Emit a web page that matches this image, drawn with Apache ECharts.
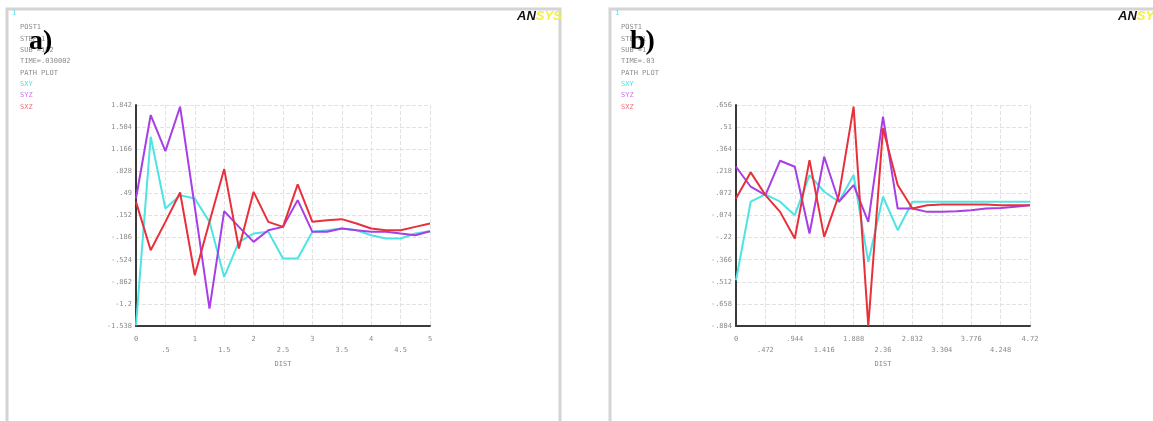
<!DOCTYPE html>
<html><head><meta charset="utf-8">
<script src="https://cdn.jsdelivr.net/npm/echarts@6/dist/echarts.min.js"></script>
<style>html,body{margin:0;padding:0;background:#fff}#c{width:1153px;height:421px}</style>
</head><body><div id="c"></div>
<script>
// ---- Panel a) data ----
const distA = [0,0.25,0.5,0.75,1,1.25,1.5,1.75,2,2.25,2.5,2.75,3,3.25,3.5,3.75,4,4.25,4.5,4.75,5];
const sxyA = [-1.528,1.357,0.259,0.463,0.412,0.055,-0.788,-0.251,-0.124,-0.098,-0.507,-0.507,-0.098,-0.073,-0.047,-0.073,-0.149,-0.200,-0.200,-0.124,-0.088];
const syzA = [0.412,1.689,1.137,1.816,0.28,-1.273,0.218,-0.022,-0.251,-0.073,-0.022,0.387,-0.098,-0.098,-0.047,-0.073,-0.098,-0.098,-0.124,-0.149,-0.088];
const sxzA = [0.361,-0.379,0.055,0.504,-0.762,0.055,0.862,-0.354,0.514,0.055,-0.022,0.627,0.055,0.080,0.096,0.029,-0.047,-0.073,-0.073,-0.022,0.029];
const yLabelsA = ['-1.538','-1.2','-.862','-.524','-.186','.152','.49','.828','1.166','1.504','1.842'];
const xLabelsA = ['0','.5','1','1.5','2','2.5','3','3.5','4','4.5','5'];
const yMinA = -1.538, yMaxA = 1.842, xMaxA = 5;

// ---- Panel b) data ----
const distB = [0,0.236,0.472,0.708,0.944,1.18,1.416,1.652,1.888,2.124,2.36,2.596,2.832,3.068,3.304,3.54,3.776,4.012,4.248,4.484,4.72];
const sxyB = [-0.502,0.017,0.065,0.017,-0.072,0.193,0.083,0.017,0.193,-0.380,0.050,-0.171,0.017,0.017,0.017,0.017,0.017,0.017,0.017,0.017,0.017];
const syzB = [0.248,0.116,0.061,0.288,0.248,-0.193,0.314,0.017,0.127,-0.116,0.579,-0.028,-0.028,-0.050,-0.050,-0.046,-0.039,-0.028,-0.024,-0.017,-0.006];
const sxzB = [0.039,0.211,0.061,-0.050,-0.226,0.292,-0.215,0.061,0.645,-0.804,0.502,0.127,-0.028,-0.006,-0.002,-0.002,-0.002,-0.002,-0.006,-0.006,-0.006];
const yLabelsB = ['-.804','-.658','-.512','-.366','-.22','-.074','.072','.218','.364','.51','.656'];
const xLabelsB = ['0','.472','.944','1.416','1.888','2.36','2.832','3.304','3.776','4.248','4.72'];
const yMinB = -0.804, yMaxB = 0.656, xMaxB = 4.72;

const infoA = ['POST1','STEP=1','SUB =102','TIME=.030002','PATH PLOT'];
const infoB = ['POST1','STEP=1','SUB =1','TIME=.03','PATH PLOT'];
const seriesNames = ['SXY','SYZ','SXZ'];
const colors = ['#4fe3e3','#a83ee6','#e8303a'];

const mono = 'DejaVu Sans Mono';
const lblColor = '#8a8a8a';

function zip(xs, ys){ return xs.map((x,i)=>[x,ys[i]]); }

const grids = [
  {left:136, top:105, width:294, height:221},
  {left:736, top:105, width:294, height:221}
];
const xAxes = [], yAxes = [];
function addAxes(gi, xMax, yMin, yMax, xl, yl){
  xAxes.push({type:'value', gridIndex:gi, min:0, max:xMax, show:false});
  xAxes.push({type:'value', gridIndex:gi, min:0, max:10, interval:1, position:'bottom',
    name:'DIST', nameLocation:'middle', nameGap:27,
    nameTextStyle:{fontFamily:mono, fontSize:7, color:lblColor},
    axisLine:{show:true, lineStyle:{color:'#3a3a3a', width:2}},
    axisTick:{show:false},
    axisLabel:{fontFamily:mono, fontSize:7, color:lblColor, margin:8, lineHeight:11,
      formatter:(v)=>{const i=Math.round(v); return i%2 ? '\n'+xl[i] : xl[i];}},
    splitLine:{show:true, lineStyle:{color:'#e2e2e2', type:'dashed', width:1}}});
  yAxes.push({type:'value', gridIndex:gi, min:yMin, max:yMax, show:false});
  yAxes.push({type:'value', gridIndex:gi, min:0, max:10, interval:1, position:'left',
    axisLine:{show:true, lineStyle:{color:'#3a3a3a', width:2}},
    axisTick:{show:false},
    axisLabel:{fontFamily:mono, fontSize:7, color:lblColor, margin:4,
      formatter:(v)=>yl[Math.round(v)]},
    splitLine:{show:true, lineStyle:{color:'#e2e2e2', type:'dashed', width:1}}});
}
addAxes(0, xMaxA, yMinA, yMaxA, xLabelsA, yLabelsA);
addAxes(1, xMaxB, yMinB, yMaxB, xLabelsB, yLabelsB);

const series = [];
const dataA = [sxyA, syzA, sxzA], dataB = [sxyB, syzB, sxzB];
[[distA,dataA,0],[distB,dataB,2]].forEach(([xs,ds,ax])=>{
  ds.forEach((d,k)=>series.push({type:'line', name:seriesNames[k], xAxisIndex:ax, yAxisIndex:ax,
    data:zip(xs,d), showSymbol:false, symbol:'none', animation:false,
    lineStyle:{color:colors[k], width:2}, z:2+k}));
});

function infoText(x, info){
  const lines = info.map(s=>'{g|'+s+'}').concat(['{c|SXY}','{m|SYZ}','{r|SXZ}']);
  return {type:'text', left:x, top:22, z:10, style:{text:lines.join('\n'), lineHeight:11.3,
    rich:{g:{fontFamily:mono,fontSize:7,fill:'#8c8c8c',lineHeight:11.3},
          c:{fontFamily:mono,fontSize:7,fill:colors[0],lineHeight:11.3},
          m:{fontFamily:mono,fontSize:7,fill:'#d070f0',lineHeight:11.3},
          r:{fontFamily:mono,fontSize:7,fill:'#f07080',lineHeight:11.3}}}};
}
function logo(x){
  return {type:'text', left:x, top:10, z:10, style:{text:'{a|AN}{b|SYS}',
    rich:{a:{fontFamily:'Liberation Sans',fontWeight:'bold',fontStyle:'italic',fontSize:13,fill:'#111'},
          b:{fontFamily:'Liberation Sans',fontWeight:'bold',fontStyle:'italic',fontSize:13,fill:'#f4f040'}}}};
}
const graphic = [
  {type:'rect', shape:{x:7, y:9, width:553, height:440}, style:{fill:'none', stroke:'#d4d4d4', lineWidth:3}, z:0},
  {type:'rect', shape:{x:610, y:9, width:560, height:440}, style:{fill:'none', stroke:'#d4d4d4', lineWidth:3}, z:0},
  {type:'text', left:12, top:10, style:{text:'1', fontFamily:mono, fontSize:7, fill:'#50e0f0'}},
  {type:'text', left:615, top:10, style:{text:'1', fontFamily:mono, fontSize:7, fill:'#50e0f0'}},
  infoText(20, infoA), infoText(621, infoB),
  logo(517), logo(1118),
  {type:'text', left:29, top:28, z:20, style:{text:'a)', fontFamily:'Liberation Serif', fontWeight:'bold', fontSize:28, fill:'#000'}},
  {type:'text', left:630, top:28, z:20, style:{text:'b)', fontFamily:'Liberation Serif', fontWeight:'bold', fontSize:28, fill:'#000'}}
];

const chart = echarts.init(document.getElementById('c'), null, {renderer:'canvas'});
chart.setOption({animation:false, backgroundColor:'#fff', grid:grids, xAxis:xAxes, yAxis:yAxes, series, graphic});
</script></body></html>
